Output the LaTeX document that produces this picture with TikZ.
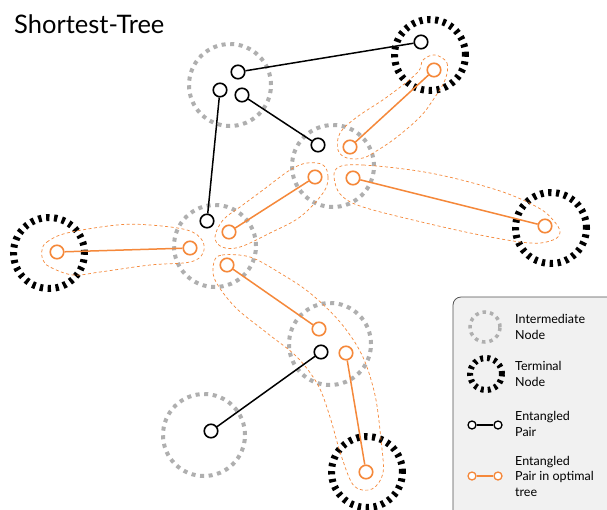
\documentclass[tikz,border=0pt]{standalone}
\usepackage{fontspec}
\setmainfont{Lato}
\definecolor{myorange}{HTML}{F5883A}
\definecolor{dotgray}{HTML}{AFAFAF}
\definecolor{legfill}{HTML}{F1F1F1}
\definecolor{legline}{HTML}{505050}
\begin{document}
\begin{tikzpicture}[x=1pt,y=-1pt,
  inter/.style={circle, draw=dotgray, line width=4pt, dash pattern=on 4pt off 4.6pt, minimum size=82pt, inner sep=0pt},
  term/.style={circle, draw=black, line width=7pt, dash pattern=on 3.3pt off 4.6pt, minimum size=71pt, inner sep=0pt},
  qb/.style={circle, draw=black, fill=white, line width=1.6pt, minimum size=13.5pt, inner sep=0pt},
  oqb/.style={qb, draw=myorange},
  pair/.style={draw=black, line width=1.5pt},
  opair/.style={pair, draw=myorange},
  env/.style={draw=myorange, line width=0.7pt, dash pattern=on 3pt off 2.5pt},
  legtext/.style={anchor=west, align=left, font=\fontsize{12.5}{15.5}\selectfont, inner sep=0pt}
]
\useasboundingbox (0,0) rectangle (607,509);
\fill[white] (0,0) rectangle (607,509);

% title
\node[anchor=base west, inner sep=0pt, font=\fontsize{25.5}{30}\selectfont] (title) at (14,33) {Shortest-Tree};

% intermediate nodes
\node[inter] (I1) at (230,85) {};
\node[inter] (I2) at (333,166) {};
\node[inter] (I3) at (215,246) {};
\node[inter] (I4) at (330,344) {};
\node[inter] (I5) at (204,435) {};
% terminal nodes
\node[term] (T1) at (430,55) {};
\node[term] (T2) at (49,253) {};
\node[term] (T3) at (551,228) {};
\node[term] (T4) at (367,472) {};

% envelopes
\draw[env] plot[smooth cycle, tension=0.6] coordinates {(435,55) (447,63) (445,80) (433,100) (420,117) (397,137) (378,150) (363,158) (347,158) (338,150) (340,133) (357,117) (387,97) (417,73) (423,60)};
\draw[env] plot[smooth cycle, tension=0.6] coordinates {(323,165) (328,177) (323,193) (300,217) (270,233) (240,247) (222,247) (215,237) (223,220) (240,207) (263,190) (290,170) (307,163)};
\draw[env] plot[smooth cycle, tension=0.6] coordinates {(337,168) (363,165) (430,173) (497,190) (537,207) (553,220) (560,232) (553,240) (530,243) (480,235) (413,220) (363,207) (343,197) (335,183)};
\draw[env] plot[smooth cycle, tension=0.6] coordinates {(42,250) (47,242) (67,233) (117,225) (150,225) (187,230) (202,240) (203,253) (190,262) (150,265) (100,272) (73,275) (50,267) (43,260)};
\draw[env] plot[smooth cycle, tension=0.55] coordinates {(214,262) (222,255) (250,257) (280,273) (310,293) (340,322) (362,355) (375,395) (381,440) (383,473) (372,489) (354,486) (341,455) (330,417) (318,385) (297,357) (267,333) (235,307) (215,280)};

% black qubits
\node[qb] (a1) at (238,72) {};
\node[qb] (a2) at (220,90) {};
\node[qb] (a3) at (242,95) {};
\node[qb] (b1) at (421,42) {};
\node[qb] (b2) at (318,145) {};
\node[qb] (c1) at (207,221) {};
\node[qb] (d1) at (321,352) {};
\node[qb] (e1) at (211,431) {};
% orange qubits
\node[oqb] (o1) at (434,70) {};
\node[oqb] (o2) at (350,147) {};
\node[oqb] (o3) at (315,177) {};
\node[oqb] (o4) at (353,178) {};
\node[oqb] (o5) at (57,252) {};
\node[oqb] (o6) at (190,248) {};
\node[oqb] (o7) at (229,232) {};
\node[oqb] (o8) at (227,265) {};
\node[oqb] (o9) at (545,226) {};
\node[oqb] (o10) at (319,329) {};
\node[oqb] (o11) at (346,353) {};
\node[oqb] (o12) at (366,472) {};

% entangled pairs
\draw[pair] (a1) -- (b1);
\draw[pair] (a3) -- (b2);
\draw[pair] (a2) -- (c1);
\draw[pair] (d1) -- (e1);
\draw[opair] (o1) -- (o2);
\draw[opair] (o3) -- (o7);
\draw[opair] (o5) -- (o6);
\draw[opair] (o4) -- (o9);
\draw[opair] (o8) -- (o10);
\draw[opair] (o11) -- (o12);

% legend
\draw[legline, fill=legfill, line width=0.8pt, rounded corners=8pt] (453,297) rectangle (620,525);
\node[circle, draw=dotgray, line width=3.5pt, dash pattern=on 3.5pt off 4pt, minimum size=30pt, inner sep=0pt] (li) at (485,327) {};
\node[circle, draw=black, line width=6pt, dash pattern=on 3pt off 4pt, minimum size=32pt, inner sep=0pt] (lt) at (486,374) {};
\node[qb, line width=1.3pt, minimum size=8pt] (lp1) at (472,425) {};
\node[qb, line width=1.3pt, minimum size=8pt] (lp2) at (498,425) {};
\draw[pair, line width=1.3pt] (lp1) -- (lp2);
\node[oqb, line width=1.3pt, minimum size=8pt] (lo1) at (472,476) {};
\node[oqb, line width=1.3pt, minimum size=8pt] (lo2) at (498,476) {};
\draw[opair, line width=1.3pt] (lo1) -- (lo2);
\node[legtext] (lti) at (515,327) {Intermediate\\Node};
\node[legtext] (ltt) at (515,374) {Terminal\\Node};
\node[legtext] (ltp) at (515,424) {Entangled\\Pair};
\node[legtext] (lto) at (515,476) {Entangled\\Pair in optimal\\tree};
\end{tikzpicture}
\end{document}
